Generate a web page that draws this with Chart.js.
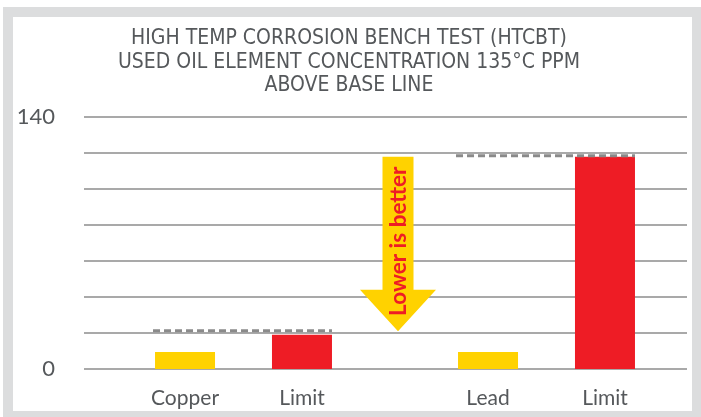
<!DOCTYPE html>
<html>
<head>
<meta charset="utf-8">
<script src="https://cdn.jsdelivr.net/npm/chart.js@4.4.1/dist/chart.umd.min.js"></script>
<style>
  html, body { margin: 0; padding: 0; background: #fff; }
  #wrap { position: relative; width: 701px; height: 417px; }
</style>
</head>
<body>
<div id="wrap"><canvas id="chart" width="701" height="417"></canvas></div>
<script>
// 数据
const groups = ['Copper group', 'Lead group'];
const barLabels = [['Copper', 'Limit'], ['Lead', 'Limit']];
const measured = [9.5, 9.5];
const limits = [19, 118];
const limitLines = [21.3, 118.5];
const yTicksShown = [0, 140];
const arrowText = 'Lower is better';

const YELLOW = '#FFD200';
const RED = '#EE1C25';
const GRID = '#8c8c8c';
const TEXT = '#55585b';

// 边框、网格线、虚线、箭头、柱标签
const decor = {
    id: 'decor',
    beforeDraw(chart) {
        const ctx = chart.ctx;
        ctx.save();
        ctx.fillStyle = '#fff';
        ctx.fillRect(0, 0, chart.width, chart.height);
        ctx.fillStyle = '#dcddde';
        ctx.fillRect(3, 7, chart.width - 3, chart.height - 7);
        ctx.fillStyle = '#fff';
        ctx.fillRect(13, 17, 679, 394);
        ctx.restore();
    },
    beforeDatasetsDraw(chart) {
        const ctx = chart.ctx;
        const y = chart.scales.y;
        ctx.save();
        ctx.strokeStyle = GRID;
        ctx.lineWidth = 1.5;
        y.ticks.forEach(t => {
            const py = y.getPixelForValue(t.value);
            ctx.beginPath();
            ctx.moveTo(84, py);
            ctx.lineTo(687, py);
            ctx.stroke();
        });
        ctx.restore();
    },
    afterDatasetsDraw(chart) {
        const ctx = chart.ctx;
        const y = chart.scales.y;
        const m0 = chart.getDatasetMeta(0).data;
        const m1 = chart.getDatasetMeta(1).data;

        // 虚线（限值）
        ctx.save();
        ctx.strokeStyle = '#8a8a8a';
        ctx.lineWidth = 3;
        ctx.setLineDash([7, 4]);
        limitLines.forEach((v, i) => {
            const py = y.getPixelForValue(v);
            ctx.beginPath();
            ctx.moveTo(m0[i].x - m0[i].width / 2 - 2, py);
            ctx.lineTo(m1[i].x + m1[i].width / 2, py);
            ctx.stroke();
        });
        ctx.restore();

        // 柱标签
        ctx.save();
        ctx.fillStyle = TEXT;
        ctx.font = '21px Lato';
        ctx.textAlign = 'center';
        ctx.textBaseline = 'alphabetic';
        groups.forEach((g, i) => {
            ctx.fillText(barLabels[i][0], m0[i].x, chart.chartArea.bottom + 36);
            ctx.fillText(barLabels[i][1], m1[i].x, chart.chartArea.bottom + 36);
        });
        ctx.restore();

        // 箭头
        const cx = (m1[0].x + m0[1].x) / 2 + 3;
        const top = y.getPixelForValue(118);
        const neck = y.getPixelForValue(44);
        const tip = y.getPixelForValue(21);
        ctx.save();
        ctx.fillStyle = YELLOW;
        ctx.beginPath();
        ctx.moveTo(cx - 15.5, top);
        ctx.lineTo(cx + 15.5, top);
        ctx.lineTo(cx + 15.5, neck);
        ctx.lineTo(cx + 38, neck);
        ctx.lineTo(cx, tip);
        ctx.lineTo(cx - 38, neck);
        ctx.lineTo(cx - 15.5, neck);
        ctx.closePath();
        ctx.fill();

        let size = 23;
        ctx.font = 'bold ' + size + 'px Lato';
        while (ctx.measureText(arrowText).width > 152 && size > 10) {
            size -= 0.5;
            ctx.font = 'bold ' + size + 'px Lato';
        }
        ctx.translate(cx + 1, y.getPixelForValue(71));
        ctx.rotate(-Math.PI / 2);
        ctx.fillStyle = RED;
        ctx.textAlign = 'center';
        ctx.textBaseline = 'middle';
        ctx.fillText(arrowText, 0, 0);
        ctx.restore();
    }
};

new Chart(document.getElementById('chart'), {
    type: 'bar',
    data: {
        labels: groups,
        datasets: [{
            data: measured,
            backgroundColor: YELLOW,
            categoryPercentage: 0.772,
            barPercentage: 0.513
        }, {
            data: limits,
            backgroundColor: RED,
            categoryPercentage: 0.772,
            barPercentage: 0.513
        }]
    },
    options: {
        responsive: false,
        animation: false,
        events: [],
        layout: {
            padding: { left: 0, right: 3, top: 0, bottom: 48 }
        },
        scales: {
            x: { display: false },
            y: {
                min: 0,
                max: 140,
                afterFit(scale) { scale.width = 92; },
                border: { display: false },
                grid: { display: false },
                ticks: {
                    stepSize: 20,
                    padding: 29,
                    color: TEXT,
                    font: { family: 'Lato', size: 22 },
                    callback: v => yTicksShown.includes(v) ? String(v) : ''
                }
            }
        },
        plugins: {
            legend: { display: false },
            tooltip: { enabled: false },
            title: {
                display: true,
                text: [
                    'HIGH TEMP CORROSION BENCH TEST (HTCBT)',
                    'USED OIL ELEMENT CONCENTRATION 135°C PPM',
                    'ABOVE BASE LINE'
                ],
                color: TEXT,
                font: { family: "'Liberation Sans Narrow', 'DejaVu Sans Condensed', sans-serif", size: 21, weight: 'normal', lineHeight: 1.12 },
                padding: { top: 27, bottom: 19.5 }
            }
        }
    },
    plugins: [decor]
});
</script>
</body>
</html>
